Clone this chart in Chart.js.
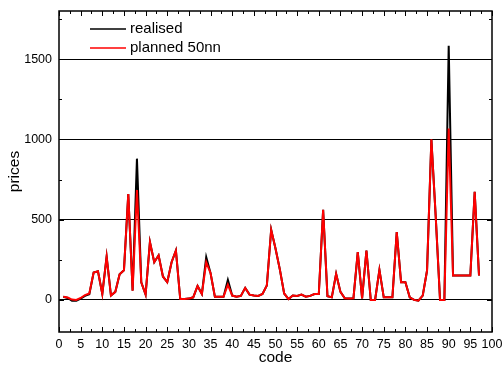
<!DOCTYPE html>
<html>
<head>
<meta charset="utf-8">
<script src="https://cdn.jsdelivr.net/npm/chart.js@4.4.0/dist/chart.umd.min.js"></script>
<style>
  html, body { margin: 0; padding: 0; background: #fff; }
</style>
</head>
<body>
<canvas id="prices-chart" width="502" height="367"></canvas>
<script>
const codes = [
    1, 2, 3, 4, 5, 6, 7, 8, 9, 10,
    11, 12, 13, 14, 15, 16, 17, 18, 19, 20,
    21, 22, 23, 24, 25, 26, 27, 28, 29, 30,
    31, 32, 33, 34, 35, 36, 37, 38, 39, 40,
    41, 42, 43, 44, 45, 46, 47, 48, 49, 50,
    51, 52, 53, 54, 55, 56, 57, 58, 59, 60,
    61, 62, 63, 64, 65, 66, 67, 68, 69, 70,
    71, 72, 73, 74, 75, 76, 77, 78, 79, 80,
    81, 82, 83, 84, 85, 86, 87, 88, 89, 90,
    91, 92, 93, 94, 95, 96, 97
];

const realised = [
    20, 12, -5, -5, 8, 25, 35, 170, 178, 37,
    270, 27, 50, 160, 185, 660, 58, 880, 110, 33,
    360, 235, 278, 146, 110, 235, 308, 5, 5, 8,
    16, 87, 37, 267, 167, 20, 20, 20, 125, 27,
    20, 25, 75, 33, 27, 25, 37, 90, 437, 320,
    190, 40, 5, 27, 25, 33, 20, 25, 37, 37,
    562, 23, 16, 162, 50, 10, 8, 10, 298, 10,
    308, 0, 0, 187, 16, 16, 16, 423, 110, 110,
    16, 0, -5, 27, 183, 1000, 520, 0, 0, 1583,
    152, 152, 152, 152, 152, 673, 152
];

const planned = [
    20, 15, 2, 0, 12, 30, 40, 170, 178, 37,
    270, 27, 50, 160, 185, 660, 58, 685, 110, 33,
    360, 235, 278, 146, 110, 235, 308, 5, 5, 8,
    16, 87, 37, 235, 167, 20, 20, 20, 95, 27,
    20, 25, 75, 33, 27, 25, 37, 90, 437, 320,
    190, 40, 5, 27, 25, 33, 20, 25, 37, 37,
    562, 23, 16, 162, 50, 10, 8, 10, 298, 10,
    308, 0, 0, 187, 16, 16, 16, 423, 110, 110,
    16, 0, -5, 27, 183, 1000, 520, 0, 0, 1068,
    152, 152, 152, 152, 152, 673, 152
];

const yTickValues = [0, 500, 1000, 1500];

const FONT = '"Liberation Sans", Arial, sans-serif';

// frame, inward tick marks and the legend inside the plot
const frameAndLegend = {
    id: 'frameAndLegend',
    afterDraw(chart) {
        const ctx = chart.ctx;
        const a = chart.chartArea;
        const x = chart.scales.x;
        const y = chart.scales.y;
        ctx.save();
        ctx.strokeStyle = '#000';
        ctx.lineWidth = 1.5;
        ctx.strokeRect(a.left, a.top, a.right - a.left, a.bottom - a.top);

        ctx.lineWidth = 1;
        ctx.beginPath();
        for (let v = 0; v <= 100; v += 2.5) {
            const px = Math.round(x.getPixelForValue(v)) + 0.5;
            const len = (v % 5 === 0) ? 5 : 3;
            ctx.moveTo(px, a.bottom);
            ctx.lineTo(px, a.bottom - len);
            ctx.moveTo(px, a.top);
            ctx.lineTo(px, a.top + len);
        }
        for (let v = 0; v <= 1750; v += 250) {
            const py = Math.round(y.getPixelForValue(v)) + 0.5;
            const len = (v % 500 === 0) ? 5 : 3;
            ctx.moveTo(a.left, py);
            ctx.lineTo(a.left + len, py);
            ctx.moveTo(a.right, py);
            ctx.lineTo(a.right - len, py);
        }
        ctx.stroke();

        ctx.font = '15px ' + FONT;
        ctx.textBaseline = 'middle';
        ctx.fillStyle = '#000';
        chart.data.datasets.forEach((ds, i) => {
            const ly = a.top + 18 + i * 19;
            ctx.strokeStyle = ds.borderColor;
            ctx.lineWidth = 1.5;
            ctx.beginPath();
            ctx.moveTo(a.left + 31, ly);
            ctx.lineTo(a.left + 67, ly);
            ctx.stroke();
            ctx.fillText(ds.label, a.left + 71, ly);
        });
        ctx.restore();
    }
};

const data = {
    labels: codes,
    datasets: [{
        label: 'realised',
        data: realised,
        borderColor: '#000000',
        borderWidth: 2,
        order: 2
    }, {
        label: 'planned 50nn',
        data: planned,
        borderColor: '#ff0000',
        borderWidth: 2,
        order: 1
    }]
};

const options = {
    responsive: false,
    animation: false,
    layout: { padding: { top: 11, right: 10, left: 0, bottom: 0 } },
    elements: { point: { radius: 0 }, line: { tension: 0 } },
    plugins: {
        legend: { display: false },
        tooltip: { enabled: false }
    },
    scales: {
        x: {
            type: 'linear',
            min: 0,
            max: 100,
            ticks: {
                stepSize: 5,
                color: '#000',
                padding: 5,
                maxRotation: 0,
                autoSkip: false,
                font: { family: FONT, size: 12.5 }
            },
            grid: { display: false, drawTicks: false },
            border: { display: false },
            title: {
                display: true,
                text: 'code',
                color: '#000',
                padding: 0,
                font: { family: FONT, size: 15.5 }
            },
            afterFit(scale) {
                scale.height = 35;
                scale.paddingLeft = 0;
                scale.paddingRight = 0;
            }
        },
        y: {
            min: -200,
            max: 1800,
            ticks: {
                color: '#000',
                padding: 7,
                font: { family: FONT, size: 12.5 },
                callback: v => String(v)
            },
            afterBuildTicks(scale) {
                scale.ticks = yTickValues.map(v => ({ value: v }));
            },
            grid: { color: '#000', lineWidth: 1, drawTicks: false },
            border: { display: false },
            title: {
                display: true,
                text: 'prices',
                color: '#000',
                padding: { top: 5, bottom: 0 },
                font: { family: FONT, size: 15.5 }
            },
            afterFit(scale) {
                scale.width = 59;
                scale.paddingTop = 0;
                scale.paddingBottom = 0;
            }
        }
    }
};

const config = {
    type: 'line',
    data: data,
    options: options,
    plugins: [frameAndLegend]
};

const pricesChart = new Chart(document.getElementById('prices-chart'), config);
</script>
</body>
</html>
